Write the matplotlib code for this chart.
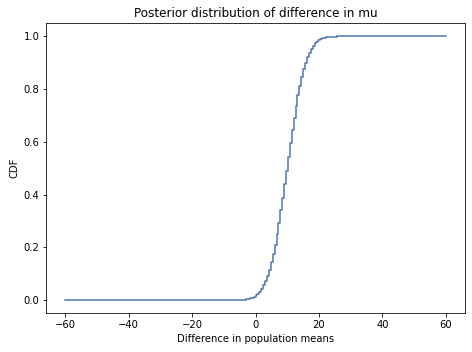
import numpy as np
import matplotlib
matplotlib.use("Agg")
import matplotlib.pyplot as plt

# posterior CDF of difference in means
# (flat at 0 below -7.2 and at 1 above 27)
diff_values = [
    -60.0,
    -7.2, -6.6, -6.0, -5.4, -4.8, -4.2, -3.6, -3.0, -2.4, -1.8,
    -1.2, -0.6, 0.0, 0.6, 1.2, 1.8, 2.4, 3.0, 3.6, 4.2,
    4.8, 5.4, 6.0, 6.6, 7.2, 7.8, 8.4, 9.0, 9.6, 10.2,
    10.8, 11.4, 12.0, 12.6, 13.2, 13.8, 14.4, 15.0, 15.6, 16.2,
    16.8, 17.4, 18.0, 18.6, 19.2, 19.8, 20.4, 21.0, 21.6, 22.2,
    22.8, 23.4, 24.0, 24.6, 25.2, 25.8, 26.4, 27.0,
    60.0,
]
cdf_values = [
    0.0,
    0.0001, 0.0002, 0.0003, 0.0005, 0.0008, 0.0013, 0.0019, 0.0029, 0.0043, 0.0062,
    0.0089, 0.0126, 0.0175, 0.024, 0.0323, 0.043, 0.0562, 0.0726, 0.0924, 0.1159,
    0.1434, 0.1749, 0.2107, 0.2502, 0.2935, 0.3398, 0.3886, 0.4396, 0.4912, 0.5434,
    0.5945, 0.6443, 0.6915, 0.7357, 0.7767, 0.8136, 0.8466, 0.8754, 0.9002, 0.9212,
    0.9386, 0.9529, 0.9644, 0.9735, 0.9805, 0.9859, 0.99, 0.993, 0.9952, 0.9967,
    0.9978, 0.9985, 0.9991, 0.9994, 0.9996, 0.9998, 0.9999, 1.0,
    1.0,
]

fig = plt.figure(figsize=(472 / 72, 352 / 72), dpi=72)
ax = fig.add_axes([0.098, 0.110, 0.887, 0.824])

ax.plot(diff_values, cdf_values, drawstyle="steps-post", color="#4C72B0", lw=1.5)

ax.set_xlabel("Difference in population means")
ax.set_ylabel("CDF")
ax.set_title("Posterior distribution of difference in mu")

fig.savefig("out.png", dpi=72)
